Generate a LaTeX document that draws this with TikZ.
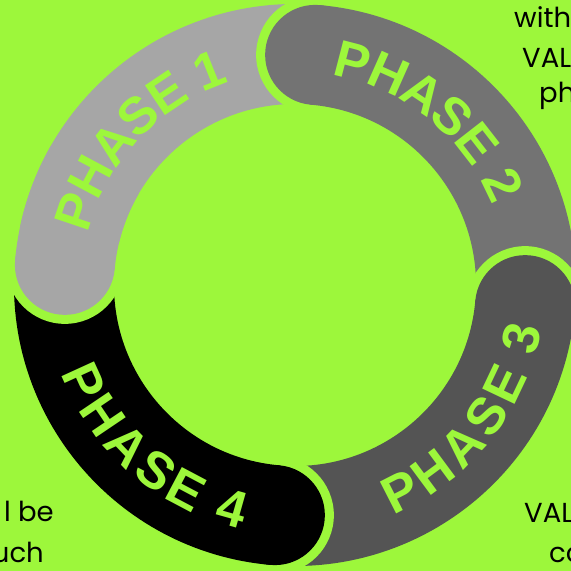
\documentclass[tikz,border=0pt]{standalone}
\usepackage{fontspec}
\setmainfont{Liberation Sans}
\newfontfamily\sidefont{Poppins}
\usetikzlibrary{decorations.text}
\definecolor{bg}{HTML}{9DF73B}
\definecolor{ph1}{HTML}{A6A6A6}
\definecolor{ph2}{HTML}{737373}
\definecolor{ph3}{HTML}{545454}
\definecolor{ph4}{HTML}{000000}
\newcommand\phasefont{\fontsize{52}{52}\selectfont\bfseries\color{bg}}
\newcommand\phaseseg[3]{%
  \fill[bg] (#1:231pt) circle[radius=59pt];
  \draw[#3, line width=100pt] (#1:231pt) arc[start angle=#1, end angle=#2, radius=231pt];
  \fill[#3] (#1:231pt) circle[radius=50pt];
}
\tikzset{
  sidetext/.style={font=\sidefont\fontsize{27.5}{38}\selectfont, text=black, inner sep=0pt}
}
\begin{document}
\begin{tikzpicture}[x=1pt,y=1pt]
\useasboundingbox (0,0) rectangle (571,571);
\clip (0,0) rectangle (571,571);
\fill[bg] (0,0) rectangle (571,571);
\begin{scope}[shift={(295,286)}]
  \phaseseg{175}{85}{ph1}
  \phaseseg{85}{-5}{ph2}
  \phaseseg{-5}{-95}{ph3}
  \phaseseg{-95}{-185}{ph4}
  \phaseseg{175}{150}{ph1}
  \path[decorate, decoration={text along path, text align=center, raise=-7pt, text={|\phasefont|PHASE 1}}]
    (182:220pt) arc[start angle=182, end angle=92, radius=220pt];
  \path[decorate, decoration={text along path, text align=center, raise=-7pt, text={|\phasefont|PHASE 2}}]
    (96:220pt) arc[start angle=96, end angle=6, radius=220pt];
  \path[decorate, decoration={text along path, text align=center, raise=-30pt, text={|\phasefont|PHASE 3}}]
    (-83.5:220pt) arc[start angle=-83.5, end angle=6.5, radius=220pt];
  \path[decorate, decoration={text along path, text align=center, raise=-30pt, text={|\phasefont|PHASE 4}}]
    (-176:220pt) arc[start angle=-176, end angle=-86, radius=220pt];
\end{scope}
\node[sidetext, anchor=base west] (t1) at (514,543) {with};
\node[sidetext, anchor=base west] (t2) at (522,503) {VAL};
\node[sidetext, anchor=base west] (t3) at (539,468) {ph};
\node[sidetext, anchor=base east] (t4) at (54,49) {l be};
\node[sidetext, anchor=base east] (t5) at (44,9) {uch};
\node[sidetext, anchor=base west] (t6) at (524,48) {VAL};
\node[sidetext, anchor=base west] (t7) at (549,9) {co};
\end{tikzpicture}
\end{document}
